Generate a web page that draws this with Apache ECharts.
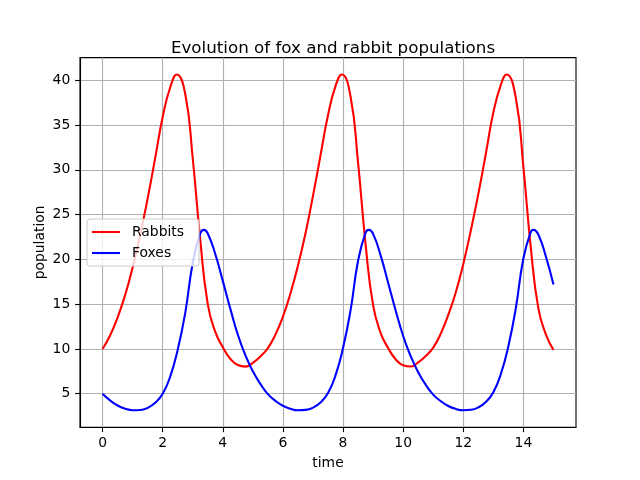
<!DOCTYPE html>
<html>
<head>
<meta charset="utf-8">
<script src="https://cdn.jsdelivr.net/npm/echarts@6/dist/echarts.min.js"></script>
<style>
html,body{margin:0;padding:0;background:#fff;}
#c{width:640px;height:480px;}
</style>
</head>
<body>
<div id="c"></div>
<script>
// ---- data ----
const rabbitTime = [0,0.25,0.5,0.75,1,1.25,1.5,1.75,2,2.25,2.47,2.75,3,3.25,3.5,3.75,4,4.25,4.5,4.75,5,5.25,5.5,5.75,6,6.25,6.5,6.75,7,7.25,7.5,7.75,7.96,8.25,8.5,8.75,9,9.25,9.5,9.75,10,10.25,10.5,10.75,11,11.25,11.5,11.75,12,12.25,12.5,12.75,13,13.25,13.44,13.75,14,14.25,14.5,14.75,15];
const rabbits = [10.0,11.5,13.5,16.0,19.1,22.7,26.8,31.3,35.9,39.2,40.66,38.5,31.3,22.2,15.0,11.9,10.2,8.9,8.2,8.03,8.45,9.15,10.1,11.6,13.6,16.2,19.3,22.9,27.1,31.6,36.1,39.35,40.66,38.2,30.8,21.7,14.9,11.8,10.1,8.85,8.18,8.04,8.5,9.2,10.15,11.7,13.8,16.3,19.5,23.2,27.3,31.8,36.4,39.5,40.66,38.0,30.3,21.2,14.5,11.6,9.9];
const foxTime = [0,0.25,0.5,0.75,1,1.25,1.5,1.75,2,2.25,2.5,2.75,3,3.25,3.37,3.5,3.75,4,4.25,4.5,4.75,5,5.25,5.5,5.75,6,6.25,6.5,6.75,7,7.25,7.5,7.75,8,8.25,8.5,8.75,8.86,9,9.25,9.5,9.75,10,10.25,10.5,10.75,11,11.25,11.5,11.75,12,12.25,12.5,12.75,13,13.25,13.5,13.75,14,14.25,14.34,14.5,14.75,15];
const foxes = [5.0,4.25,3.68,3.33,3.16,3.18,3.42,3.98,5.0,6.9,9.9,14.0,19.6,22.9,23.3,22.9,20.6,17.6,14.5,11.6,9.3,7.5,6.1,4.95,4.2,3.65,3.32,3.15,3.19,3.44,4.02,5.08,7.04,10.1,14.3,19.85,23.0,23.3,22.85,20.45,17.4,14.3,11.45,9.2,7.4,6.0,4.9,4.17,3.63,3.3,3.15,3.2,3.47,4.07,5.17,7.2,10.3,14.6,20.1,23.1,23.3,22.75,20.3,17.2];
const timeTicks = [0,2,4,6,8,10,12,14];
const popTicks = [5,10,15,20,25,30,35,40];
const seriesNames = ['Rabbits','Foxes'];
const titleText = 'Evolution of fox and rabbit populations';
const xName = 'time';
const yName = 'population';

const FONT = 'DejaVu Sans';
const chart = echarts.init(document.getElementById('c'), null, {renderer:'canvas'});
const pair = (ts, vs) => ts.map((t,i) => [t, vs[i]]);

chart.setOption({
  animation: false,
  backgroundColor: '#ffffff',
  title: {
    text: titleText,
    left: 328, top: 35, textAlign: 'center',
    textStyle: {fontFamily: FONT, fontSize: 16.7, fontWeight: 'normal', color: '#000'}
  },
  grid: {left: 80, right: 64, top: 57.6, bottom: 52.8, show: true, borderColor: '#000', borderWidth: 1.1, containLabel: false},
  legend: {
    data: seriesNames,
    icon: 'rect',
    orient: 'vertical', left: 87, top: 219,
    itemWidth: 28, itemHeight: 2.1, itemGap: 7,
    padding: [6, 15, 6, 5],
    backgroundColor: 'rgba(255,255,255,0.8)',
    borderColor: '#cccccc', borderWidth: 1, borderRadius: 3,
    textStyle: {fontFamily: FONT, fontSize: 13.9, color: '#000', padding: [0,0,0,7]}
  },
  xAxis: {
    type: 'value', min: -0.75, max: 15.75, splitNumber: 8,
    name: xName, nameLocation: 'middle', nameGap: 29, nameMoveOverlap: false,
    nameTextStyle: {fontFamily: FONT, fontSize: 13.9, color: '#000'},
    axisLine: {show: true, onZero: false, lineStyle: {color: '#000', width: 1.1}},
    axisTick: {show: true, length: 4.9, customValues: timeTicks, lineStyle: {color: '#000', width: 1.1}},
    axisLabel: {customValues: timeTicks, margin: 9, fontFamily: FONT, fontSize: 13.9, color: '#000'},
    splitLine: {show: true, lineStyle: {color: '#b0b0b0', width: 1.1}}
  },
  yAxis: {
    type: 'value', min: 1.26, max: 42.54, splitNumber: 8,
    name: yName, nameLocation: 'middle', nameGap: 33, nameRotate: 90, nameMoveOverlap: false,
    nameTextStyle: {fontFamily: FONT, fontSize: 13.9, color: '#000'},
    axisLine: {show: true, onZero: false, lineStyle: {color: '#000', width: 1.1}},
    axisTick: {show: true, length: 4.9, customValues: popTicks, lineStyle: {color: '#000', width: 1.1}},
    axisLabel: {customValues: popTicks, margin: 9.7, fontFamily: FONT, fontSize: 13.9, color: '#000'},
    splitLine: {show: true, lineStyle: {color: '#b0b0b0', width: 1.1}}
  },
  series: [
    {name: seriesNames[0], type: 'line', data: pair(rabbitTime, rabbits), symbol: 'none', showSymbol: false,
     smooth: 0.5, lineStyle: {color: '#ff0000', width: 2.1}, itemStyle: {color: '#ff0000'}, z: 3},
    {name: seriesNames[1], type: 'line', data: pair(foxTime, foxes), symbol: 'none', showSymbol: false,
     smooth: 0.5, lineStyle: {color: '#0000ff', width: 2.1}, itemStyle: {color: '#0000ff'}, z: 3}
  ]
});
</script>
</body>
</html>
